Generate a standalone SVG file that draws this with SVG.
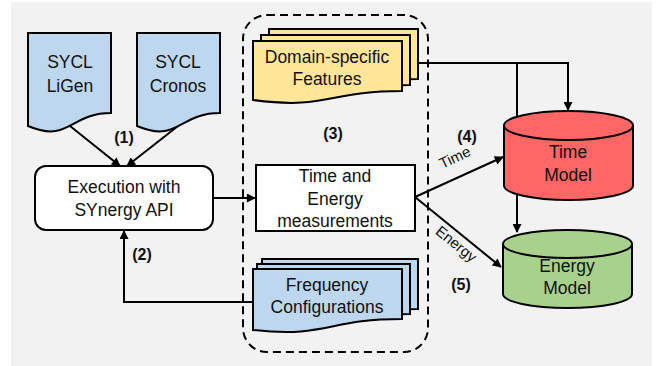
<svg xmlns="http://www.w3.org/2000/svg" width="661" height="366" viewBox="0 0 661 366">
  <style>
    .shape { stroke: #000; stroke-width: 2; }
    .txt { font-family: "Liberation Sans", Arial, sans-serif; font-size: 17.5px; fill: #111; text-anchor: middle; }
    .num { font-family: "Liberation Sans", Arial, sans-serif; font-size: 16px; font-weight: bold; fill: #111; text-anchor: middle; }
    .lbl { font-family: "Liberation Sans", Arial, sans-serif; font-size: 15px; fill: #111; text-anchor: middle; }
    .wire { fill: none; stroke: #000; stroke-width: 2; }
    .blue { fill: #BDD7EE; }
    .yellow { fill: #FFE699; }
  </style>
  <defs>
    <marker id="arrow" viewBox="0 0 10 10" refX="9" refY="5" markerWidth="10" markerHeight="9" markerUnits="userSpaceOnUse" orient="auto">
      <path d="M0,0 L10,5 L0,10 Z" fill="#000"/>
    </marker>
  </defs>

  <!-- canvas -->
  <rect x="11" y="2" width="641" height="364" fill="#F2F2F2"/>

  <!-- stage (3) container -->
  <rect id="stage3" x="243" y="15" width="185" height="337" rx="24" ry="24" fill="none" stroke="#000" stroke-width="2" stroke-dasharray="8 5"/>

  <g id="connectors">
    <path class="wire" d="M70,126 L120,166" marker-end="url(#arrow)"/>
    <path class="wire" d="M178,126 L127,166" marker-end="url(#arrow)"/>
    <path class="wire" d="M213,198 L255,198" marker-end="url(#arrow)"/>
    <path class="wire" d="M253,302 L124,302 L124,231" marker-end="url(#arrow)"/>
    <path class="wire" d="M418,63 L568,63 L568,110" marker-end="url(#arrow)"/>
    <path class="wire" d="M517,63 L517,232" marker-end="url(#arrow)"/>
    <path class="wire" d="M415,197 L503,157" marker-end="url(#arrow)"/>
    <path class="wire" d="M415,197 L501,267" marker-end="url(#arrow)"/>
    <text class="lbl" transform="translate(457,162) rotate(-25)">Time</text>
    <text class="lbl" transform="translate(453,248) rotate(39)">Energy</text>
  </g>

  <!-- step labels -->
  <text class="num" x="124" y="143">(1)</text>
  <text class="num" x="142" y="260">(2)</text>
  <text class="num" x="333" y="139">(3)</text>
  <text class="num" x="467" y="142">(4)</text>
  <text class="num" x="461" y="290">(5)</text>

  <g id="ligen">
    <path class="shape blue" d="M28,33 H111 V113 C69.5,113 69.5,143.5 28,126 Z"/>
    <text class="txt" x="70" y="68">SYCL</text>
    <text class="txt" x="70" y="92">LiGen</text>
  </g>

  <g id="cronos">
    <path class="shape blue" d="M137,33 H220 V113 C178.5,113 178.5,143.5 137,126 Z"/>
    <text class="txt" x="178" y="68">SYCL</text>
    <text class="txt" x="178" y="92">Cronos</text>
  </g>

  <g id="execution">
    <rect class="shape" x="35" y="166" width="178" height="64" rx="11" ry="11" fill="#fff"/>
    <text class="txt" x="124" y="193">Execution with</text>
    <text class="txt" x="124" y="216">SYnergy API</text>
  </g>

  <g id="features">
    <path class="shape yellow" d="M269,29 H418 V79 C343.5,79 343.5,98 269,87 Z"/>
    <path class="shape yellow" d="M261,35 H410 V85 C335.5,85 335.5,104 261,93 Z"/>
    <path class="shape yellow" d="M253,41 H402 V91 C327.5,91 327.5,110 253,100 Z"/>
    <text class="txt" x="327" y="63">Domain-specific</text>
    <text class="txt" x="327" y="85">Features</text>
  </g>

  <g id="measurements">
    <rect class="shape" x="256" y="165" width="159" height="66" fill="#fff"/>
    <text class="txt" x="335" y="182">Time and</text>
    <text class="txt" x="335" y="205">Energy</text>
    <text class="txt" x="335" y="227">measurements</text>
  </g>

  <g id="frequency">
    <path class="shape blue" d="M262,259 H418 V309 C340,309 340,328 262,318 Z"/>
    <path class="shape blue" d="M257,264 H410 V314 C333.5,314 333.5,333 257,323 Z"/>
    <path class="shape blue" d="M253,269 H402 V319 C327.5,319 327.5,338 253,330 Z"/>
    <text class="txt" x="327" y="291">Frequency</text>
    <text class="txt" x="327" y="313">Configurations</text>
  </g>

  <g id="time-model">
    <path class="shape" fill="#FF6666" d="M504,125.5 V185.5 A64.5,14.5 0 0 0 633,185.5 V125.5 A64.5,14.5 0 0 0 504,125.5 Z"/>
    <path class="shape" fill="none" d="M504,125.5 A64.5,14.5 0 0 0 633,125.5"/>
    <text class="txt" x="568" y="158">Time</text>
    <text class="txt" x="568" y="181">Model</text>
  </g>

  <g id="energy-model">
    <path class="shape" fill="#A9D18E" d="M503,244 V294 A64.5,14 0 0 0 632,294 V244 A64.5,14 0 0 0 503,244 Z"/>
    <path class="shape" fill="none" d="M503,244 A64.5,14 0 0 0 632,244"/>
    <text class="txt" x="567" y="272">Energy</text>
    <text class="txt" x="567" y="294">Model</text>
  </g>
</svg>
